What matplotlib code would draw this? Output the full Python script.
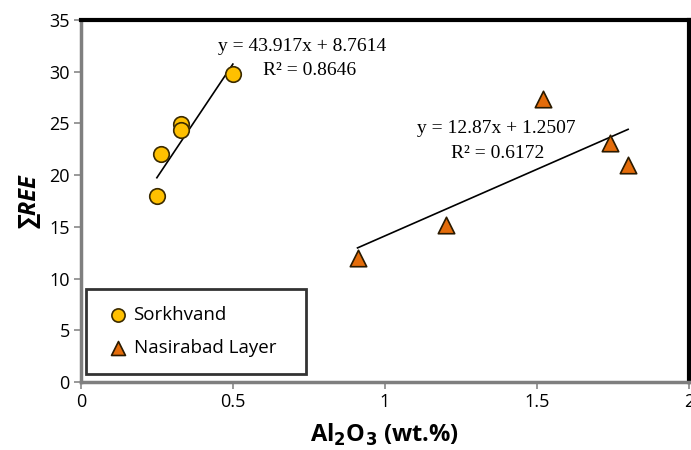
import matplotlib
matplotlib.use("Agg")
import matplotlib.pyplot as plt
import numpy as np

sork_x = [0.25, 0.265, 0.33, 0.33, 0.50]
sork_y = [18.0, 22.0, 24.9, 24.4, 29.8]
nas_x = [0.91, 1.20, 1.52, 1.74, 1.80]
nas_y = [12.0, 15.2, 27.3, 23.1, 21.0]
fit1 = (43.917, 8.7614)
fit2 = (12.87, 1.2507)
xticks = [0, 0.5, 1, 1.5, 2]
xticklabels = ["0", "0.5", "1", "1.5", "2"]
yticks = [0, 5, 10, 15, 20, 25, 30, 35]

fig = plt.figure(figsize=(6.91, 4.5), dpi=100)
ax = fig.add_axes([0.117, 0.151, 0.880, 0.805])

ax.set_xlim(0, 2)
ax.set_ylim(0, 35)

# trend lines
x1 = np.array([min(sork_x), max(sork_x)])
ax.plot(x1, fit1[0] * x1 + fit1[1], color="black", lw=1.2, zorder=2)
x2 = np.array([min(nas_x), max(nas_x)])
ax.plot(x2, fit2[0] * x2 + fit2[1], color="black", lw=1.2, zorder=2)

ax.scatter(sork_x, sork_y, s=125, marker="o", facecolor="#FFC000",
           edgecolor="#3a2a00", linewidth=1.2, zorder=3, label="Sorkhvand")
ax.scatter(nas_x, nas_y, s=140, marker="^", facecolor="#E46C0A",
           edgecolor="#2a1a00", linewidth=1.2, zorder=3, label="Nasirabad Layer")

serif = "Liberation Serif"
fs_eq = 14
ax.text(0.727, 32.4, "y = 43.917x + 8.7614", family=serif, fontsize=fs_eq,
        ha="center", va="center")
ax.text(0.753, 30.1, "R² = 0.8646", family=serif, fontsize=fs_eq,
        ha="center", va="center")
ax.text(1.365, 24.5, "y = 12.87x + 1.2507", family=serif, fontsize=fs_eq,
        ha="center", va="center")
ax.text(1.372, 22.1, "R² = 0.6172", family=serif, fontsize=fs_eq,
        ha="center", va="center")

sans = "Open Sans"
ax.set_xticks(xticks)
ax.set_xticklabels(xticklabels, family=sans, fontsize=13)
ax.set_yticks(yticks)
ax.set_yticklabels([str(v) for v in yticks], family=sans, fontsize=13)
ax.tick_params(direction="out", length=5, color="#888888", width=1.2, pad=3)

for side in ["left", "bottom"]:
    ax.spines[side].set_color("#7f7f7f")
    ax.spines[side].set_linewidth(2.5)
for side in ["top", "right"]:
    ax.spines[side].set_color("black")
    ax.spines[side].set_linewidth(3)

ax.set_xlabel(r"Al$_\mathbf{2}$O$_\mathbf{3}$ (wt.%)", family=sans,
              fontsize=17, fontweight="bold", labelpad=8)
ax.set_ylabel("∑REE", family=[sans, "DejaVu Sans"], fontsize=17,
              fontweight="bold", style="italic", labelpad=6)

leg = ax.legend(loc="lower left", bbox_to_anchor=(0.008, 0.022, 0.362, 0.2),
                mode="expand",
                prop={"family": sans, "size": 13.5}, frameon=True,
                fancybox=False, borderpad=0.9, labelspacing=0.8,
                handletextpad=0.05, borderaxespad=0, handlelength=1.6,
                markerscale=0.85)
leg.get_frame().set_edgecolor("black")
leg.get_frame().set_linewidth(2)

fig.savefig("out.png", dpi=100)
